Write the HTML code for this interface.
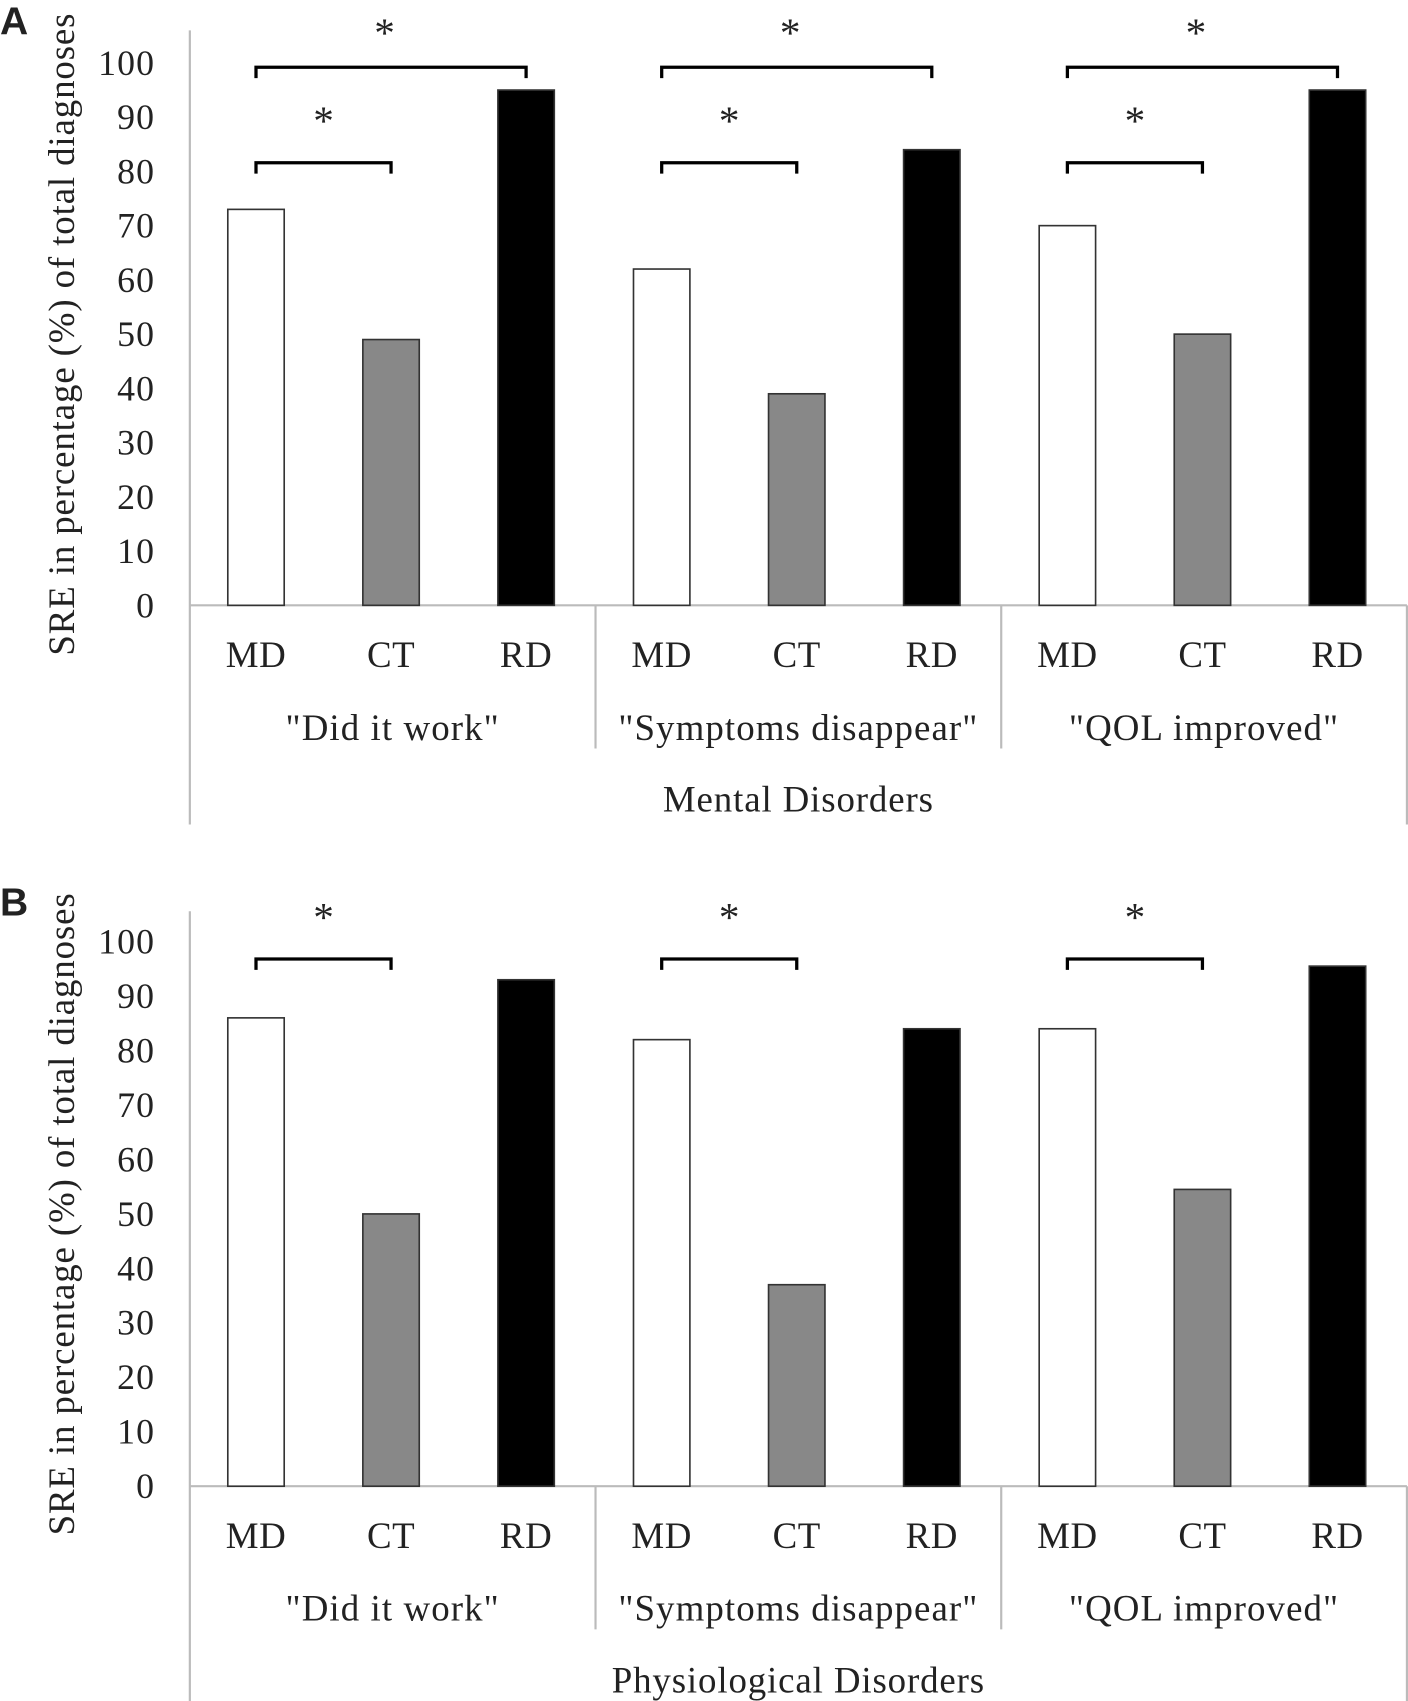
<!DOCTYPE html>
<html><head><meta charset="utf-8"><style>
html,body{margin:0;padding:0;background:#fff;}
svg{display:block;}
text{font-family:"Liberation Serif",serif;fill:#222;}
</style></head><body>
<svg id="chart" width="1408" height="1701" viewBox="0 0 1298 1568" preserveAspectRatio="none" xmlns="http://www.w3.org/2000/svg"></svg>
<script>
const groups = ['"Did it work"', '"Symptoms disappear"', '"QOL improved"'];
const cats = ['MD', 'CT', 'RD'];
const valuesA = [[73, 49, 95], [62, 39, 84], [70, 50, 95]];
const valuesB = [[86, 50, 93], [82, 37, 84], [84, 54.5, 95.5]];
const ticks = [0, 10, 20, 30, 40, 50, 60, 70, 80, 90, 100];
const panelTitles = ['Mental Disorders', 'Physiological Disorders'];
const fills = ['#ffffff', '#888888', '#000000'];

const svg = document.getElementById('chart');
const NS = 'http://www.w3.org/2000/svg';
function mk(tag, attrs, parent) {
  const e = document.createElementNS(NS, tag);
  for (const k in attrs) e.setAttribute(k, attrs[k]);
  (parent || svg).appendChild(e);
  return e;
}
const axisX = 175, right = 1297, groupW = (right - axisX) / 3;
function xCenter(g, c) { return axisX + g * groupW + 61 + c * 124.5; }

function panel(letter, base, top100, values, title, brackets, boxBottom) {
  const pg = mk('g', {});
  
  
  const y = v => base - (base - top100) * v / 100;
  const lt = mk('text', {x: 0, y: base - 526, 'font-size': 36, 'font-weight': 'bold', style: 'font-family:"Liberation Sans",sans-serif', fill: '#000'}, pg);
  lt.textContent = letter;
  
  
  const ax = mk('line', {x1: axisX, x2: axisX, y1: base - 530, y2: boxBottom, stroke: '#bbb', 'stroke-width': 2}, pg);
  
  
  const bl = mk('line', {x1: axisX, x2: right, y1: base, y2: base, stroke: '#bbb', 'stroke-width': 2}, pg);
  
  
  const rl = mk('line', {x1: right, x2: right, y1: base, y2: boxBottom, stroke: '#bbb', 'stroke-width': 2}, pg);
  
  
  for (let g = 1; g < 3; g++) {
    const s = mk('line', {x1: axisX + g * groupW, x2: axisX + g * groupW, y1: base, y2: base + 132, stroke: '#bbb', 'stroke-width': 2}, pg);
    
    
  }
  ticks.forEach(t => {
    const tt = mk('text', {x: 143, y: y(t) + 11, 'text-anchor': 'end', 'font-size': 33, 'letter-spacing': 1}, pg);
    tt.textContent = t;
    
    
  });
  const yt = mk('text', {x: 0, y: 0, 'font-size': 34, 'letter-spacing': 0.8, 'text-anchor': 'middle', transform: `translate(68,${(base + top100) / 2 - 0}) rotate(-90)`}, pg);
  yt.textContent = 'SRE in percentage  (%) of total diagnoses';
  
  
  values.forEach((vals, g) => {
    vals.forEach((v, c) => {
      const r = mk('rect', {x: xCenter(g, c) - 26, y: y(v), width: 52, height: base - y(v), fill: fills[c], stroke: '#333', 'stroke-width': 1.5}, pg);
      
      
      const ct = mk('text', {x: xCenter(g, c), y: base + 57, 'text-anchor': 'middle', 'font-size': 34, 'letter-spacing': 0.5}, pg);
      ct.textContent = cats[c];
      
      
    });
    const gt = mk('text', {x: axisX + (g + 0.5) * groupW, y: base + 124, 'text-anchor': 'middle', 'font-size': 34, 'letter-spacing': 1}, pg);
    gt.textContent = groups[g];
    
    
    brackets.forEach(b => {
      const x1 = xCenter(g, 0), x2 = xCenter(g, b.to);
      const p = mk('path', {d: `M${x1} ${b.y + 10}V${b.y}H${x2}V${b.y + 10}`, fill: 'none', stroke: '#000', 'stroke-width': 3}, pg);
      
      
      const st = mk('text', {x: (x1 + x2) / 2 - (b.to === 2 ? 6 : 0), y: b.y - (b.to === 2 ? 19 : 26), 'text-anchor': 'middle', 'font-size': 38}, pg);
      st.textContent = '*';
      
      
    });
  });
  const pt = mk('text', {x: axisX + 1.5 * groupW, y: base + 190, 'text-anchor': 'middle', 'font-size': 34, 'letter-spacing': 0.8}, pg);
  pt.textContent = title;
  
  
}
panel('A', 558, 58, valuesA, panelTitles[0], [{y: 62, to: 2}, {y: 150, to: 1}], 760);
panel('B', 1370, 868, valuesB, panelTitles[1], [{y: 884, to: 1}], 1568);
</script>
</body></html>
